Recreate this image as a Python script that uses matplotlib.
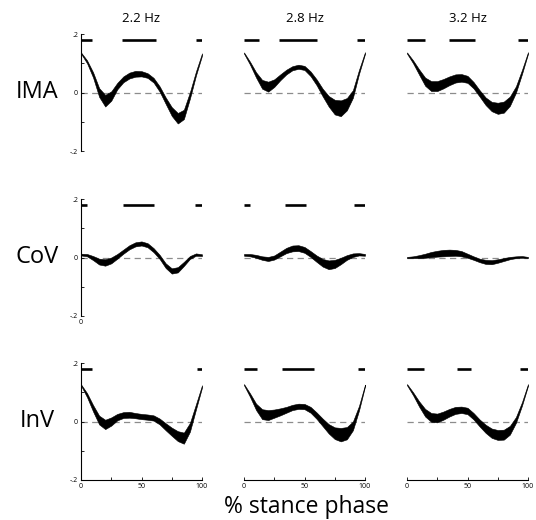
import matplotlib
matplotlib.use('Agg')
import matplotlib.pyplot as plt

plt.rcParams['font.family'] = ['Open Sans', 'DejaVu Sans']

# % stance phase sample points
pct = [0, 5, 10, 15, 20, 25, 30, 35, 40, 45, 50, 55, 60, 65, 70, 75, 80, 85, 90, 95, 100]

freqs = ['2.2 Hz', '2.8 Hz', '3.2 Hz']
measures = ['IMA', 'CoV', 'InV']

# mean curves (centre of band) and half-widths of band
ima_22_mean = [0.135, 0.105, 0.06, 0.0, -0.028, -0.012, 0.022, 0.045, 0.058, 0.064, 0.064,
               0.058, 0.042, 0.012, -0.028, -0.065, -0.088, -0.075, -0.01, 0.065, 0.13]
ima_22_sd = [0.002, 0.005, 0.009, 0.015, 0.02, 0.016, 0.011, 0.01, 0.01, 0.01, 0.009,
             0.008, 0.008, 0.009, 0.011, 0.015, 0.018, 0.016, 0.011, 0.007, 0.004]
ima_28_mean = [0.135, 0.1, 0.06, 0.028, 0.02, 0.032, 0.052, 0.07, 0.083, 0.088, 0.084,
               0.064, 0.035, 0.0, -0.03, -0.05, -0.054, -0.04, -0.005, 0.07, 0.135]
ima_28_sd = [0.002, 0.005, 0.009, 0.015, 0.017, 0.013, 0.01, 0.008, 0.007, 0.007, 0.007,
             0.008, 0.01, 0.013, 0.018, 0.025, 0.027, 0.021, 0.013, 0.007, 0.003]
ima_32_mean = [0.135, 0.105, 0.07, 0.037, 0.022, 0.022, 0.03, 0.04, 0.048, 0.05, 0.045,
               0.025, -0.003, -0.03, -0.048, -0.054, -0.05, -0.03, 0.01, 0.07, 0.135]
ima_32_sd = [0.002, 0.005, 0.009, 0.014, 0.017, 0.017, 0.016, 0.015, 0.014, 0.013, 0.012,
             0.011, 0.011, 0.013, 0.016, 0.019, 0.019, 0.016, 0.011, 0.007, 0.003]

cov_22_mean = [0.01, 0.008, -0.002, -0.014, -0.017, -0.01, 0.004, 0.02, 0.035, 0.045, 0.048,
               0.042, 0.025, 0.002, -0.028, -0.046, -0.042, -0.022, 0.0, 0.01, 0.008]
cov_22_sd = [0.003, 0.004, 0.007, 0.01, 0.011, 0.01, 0.008, 0.007, 0.007, 0.007, 0.007,
             0.007, 0.007, 0.007, 0.008, 0.009, 0.009, 0.007, 0.005, 0.004, 0.003]
cov_28_mean = [0.009, 0.008, 0.004, -0.002, -0.005, 0.0, 0.012, 0.024, 0.031, 0.032, 0.026,
               0.012, -0.004, -0.018, -0.025, -0.022, -0.012, 0.0, 0.008, 0.011, 0.009]
cov_28_sd = [0.003, 0.004, 0.005, 0.006, 0.007, 0.007, 0.008, 0.009, 0.01, 0.01, 0.01,
             0.01, 0.011, 0.013, 0.015, 0.014, 0.011, 0.008, 0.006, 0.004, 0.003]
cov_32_mean = [0.0, 0.001, 0.003, 0.006, 0.01, 0.013, 0.015, 0.016, 0.016, 0.013, 0.006,
               -0.002, -0.01, -0.015, -0.016, -0.012, -0.007, -0.002, 0.001, 0.002, 0.0]
cov_32_sd = [0.002, 0.003, 0.005, 0.007, 0.009, 0.01, 0.011, 0.011, 0.01, 0.009, 0.007,
             0.006, 0.006, 0.007, 0.007, 0.006, 0.005, 0.004, 0.003, 0.003, 0.002]

inv_22_mean = [0.125, 0.09, 0.045, 0.005, -0.01, 0.0, 0.015, 0.022, 0.023, 0.02, 0.017,
               0.015, 0.012, 0.0, -0.018, -0.035, -0.05, -0.057, -0.02, 0.05, 0.12]
inv_22_sd = [0.002, 0.007, 0.011, 0.015, 0.016, 0.014, 0.011, 0.01, 0.01, 0.009, 0.009,
             0.009, 0.009, 0.01, 0.012, 0.014, 0.017, 0.019, 0.015, 0.009, 0.004]
inv_28_mean = [0.126, 0.09, 0.05, 0.025, 0.022, 0.027, 0.033, 0.04, 0.048, 0.052, 0.051,
               0.04, 0.02, -0.003, -0.025, -0.04, -0.045, -0.04, -0.015, 0.045, 0.123]
inv_28_sd = [0.002, 0.006, 0.011, 0.017, 0.017, 0.014, 0.012, 0.01, 0.009, 0.009, 0.009,
             0.01, 0.011, 0.013, 0.016, 0.02, 0.023, 0.021, 0.015, 0.008, 0.003]
inv_32_mean = [0.126, 0.095, 0.06, 0.03, 0.014, 0.012, 0.02, 0.03, 0.038, 0.04, 0.036,
               0.018, -0.005, -0.025, -0.04, -0.046, -0.045, -0.03, 0.005, 0.06, 0.125]
inv_32_sd = [0.002, 0.005, 0.009, 0.013, 0.015, 0.015, 0.014, 0.013, 0.012, 0.011, 0.011,
             0.011, 0.012, 0.014, 0.016, 0.017, 0.017, 0.015, 0.01, 0.006, 0.003]

# significance bars (start %, end %)
ima_22_sig = [(0, 9), (34, 62), (95, 100)]
ima_28_sig = [(0, 12), (29, 60), (93, 100)]
ima_32_sig = [(0, 15), (35, 56), (92, 100)]
cov_22_sig = [(0, 5), (35, 60), (94, 100)]
cov_28_sig = [(0, 5), (34, 51), (91, 100)]
cov_32_sig = []
inv_22_sig = [(0, 9), (96, 100)]
inv_28_sig = [(0, 11), (31, 58), (94, 100)]
inv_32_sig = [(0, 14), (41, 53), (93, 100)]

panels = [
    [(ima_22_mean, ima_22_sd, ima_22_sig), (ima_28_mean, ima_28_sd, ima_28_sig), (ima_32_mean, ima_32_sd, ima_32_sig)],
    [(cov_22_mean, cov_22_sd, cov_22_sig), (cov_28_mean, cov_28_sd, cov_28_sig), (cov_32_mean, cov_32_sd, cov_32_sig)],
    [(inv_22_mean, inv_22_sd, inv_22_sig), (inv_28_mean, inv_28_sd, inv_28_sig), (inv_32_mean, inv_32_sd, inv_32_sig)],
]

W, H = 536, 520
fig = plt.figure(figsize=(W / 100, H / 100), dpi=100)

col_left = [81, 244, 407]
col_w = 121
row_top = [34, 199, 363]
row_h = 117

for r in range(3):
    for c in range(3):
        mean, sd, sig = panels[r][c]
        ax = fig.add_axes([col_left[c] / W, 1 - (row_top[r] + row_h) / H, col_w / W, row_h / H])
        lo = [m - s for m, s in zip(mean, sd)]
        hi = [m + s for m, s in zip(mean, sd)]
        ax.plot([0, 100], [0, 0], color='#8c8c8c', lw=0.9, dashes=(5, 3.5), zorder=1)
        ax.fill_between(pct, lo, hi, color='black', lw=0.4, edgecolor='black', zorder=2)
        for a, b in sig:
            ax.plot([a, b], [0.18, 0.18], color='black', lw=1.9, solid_capstyle='butt')
        ax.set_xlim(0, 100)
        ax.set_ylim(-0.2, 0.2)
        for s in ax.spines.values():
            s.set_visible(False)
        ax.tick_params(direction='in', length=2, width=0.6, labelsize=5, pad=2)
        if c == 0:
            ax.spines['left'].set_visible(True)
            ax.spines['left'].set_linewidth(0.8)
            ax.set_yticks([-0.2, -0.1, 0, 0.1, 0.2])
            ax.set_yticklabels(['-.2', '', '0', '', '.2'])
        else:
            ax.set_yticks([])
        if r == 2:
            ax.spines['bottom'].set_visible(True)
            ax.spines['bottom'].set_linewidth(0.8)
            ax.set_xticks([0, 25, 50, 75, 100])
            ax.set_xticklabels(['0', '', '50', '', '100'])
        else:
            ax.set_xticks([])
        if r == 1 and c == 0:
            ax.annotate('0', (0, -0.2), xytext=(0, -2.5), textcoords='offset points',
                        fontsize=5, ha='center', va='top')
        if r == 0:
            ax.set_title(freqs[c], fontsize=9.5, pad=9)
        if c == 0:
            fig.text(37 / W, 1 - (row_top[r] + 58) / H, measures[r], fontsize=17,
                     ha='center', va='center')

fig.text(306 / W, 1 - 507 / H, '% stance phase', fontsize=16.5, ha='center', va='center')

fig.savefig('out.png', dpi=100, facecolor='white')
plt.close()
